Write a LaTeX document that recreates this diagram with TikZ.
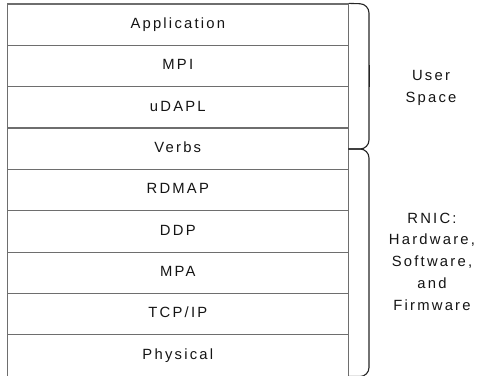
\documentclass[tikz,border=0pt]{standalone}
\usepackage{fontspec}
\setmainfont{Liberation Sans}[LetterSpace=15]
\begin{document}
\begin{tikzpicture}[x=1pt,y=-1pt,
  layer/.style={draw=layergray, line width=1.2pt, minimum width=341pt,
    minimum height=41.35pt, inner sep=0pt, text height=10.5pt, text depth=3pt,
    text=txt, font=\fontsize{14.8}{21.7}\selectfont},
  side/.style={align=center, inner sep=0pt, text=txt,
    font=\fontsize{14.8}{21.7}\selectfont},
  bracel/.style={draw=bracecol, line width=1.1pt, rounded corners=9pt}]
\definecolor{layergray}{HTML}{6E6E6E}
\definecolor{bracecol}{HTML}{262626}
\definecolor{txt}{HTML}{141414}
\useasboundingbox (0,0) rectangle (478,375);
\clip (0,0) rectangle (478,375);

% protocol stack, top to bottom
\foreach \name/\label [count=\i from 0] in
  {app/Application, mpi/MPI, udapl/uDAPL, verbs/Verbs, rdmap/RDMAP,
   ddp/DDP, mpa/MPA, tcpip/{TCP/IP}, phys/Physical}
  \node[layer] (\name) at (177.8, 24.675+41.35*\i) {\label};

% braces on the right
\coordinate (ut) at (app.north east);
\coordinate (mid) at (348.3,149);
\coordinate (lb) at (348.3,376.5);
\draw[bracel] (ut) -- (369,4) -- (369,149) -- (mid);
\draw[bracel] (mid) -- (369,149) -- (369,376.5) -- (lb);
\coordinate (tipa) at (369.6,65);
\coordinate (tipb) at (369.6,87);
\draw[draw=bracecol, line width=1.6pt] (tipa) -- (tipb);

% side labels
\node[side] (user) at (431,88) {User\\Space};
\node[side] (rnic) at (432,261.5) {RNIC:\\Hardware,\\Software,\\and\\Firmware};
\end{tikzpicture}
\end{document}
